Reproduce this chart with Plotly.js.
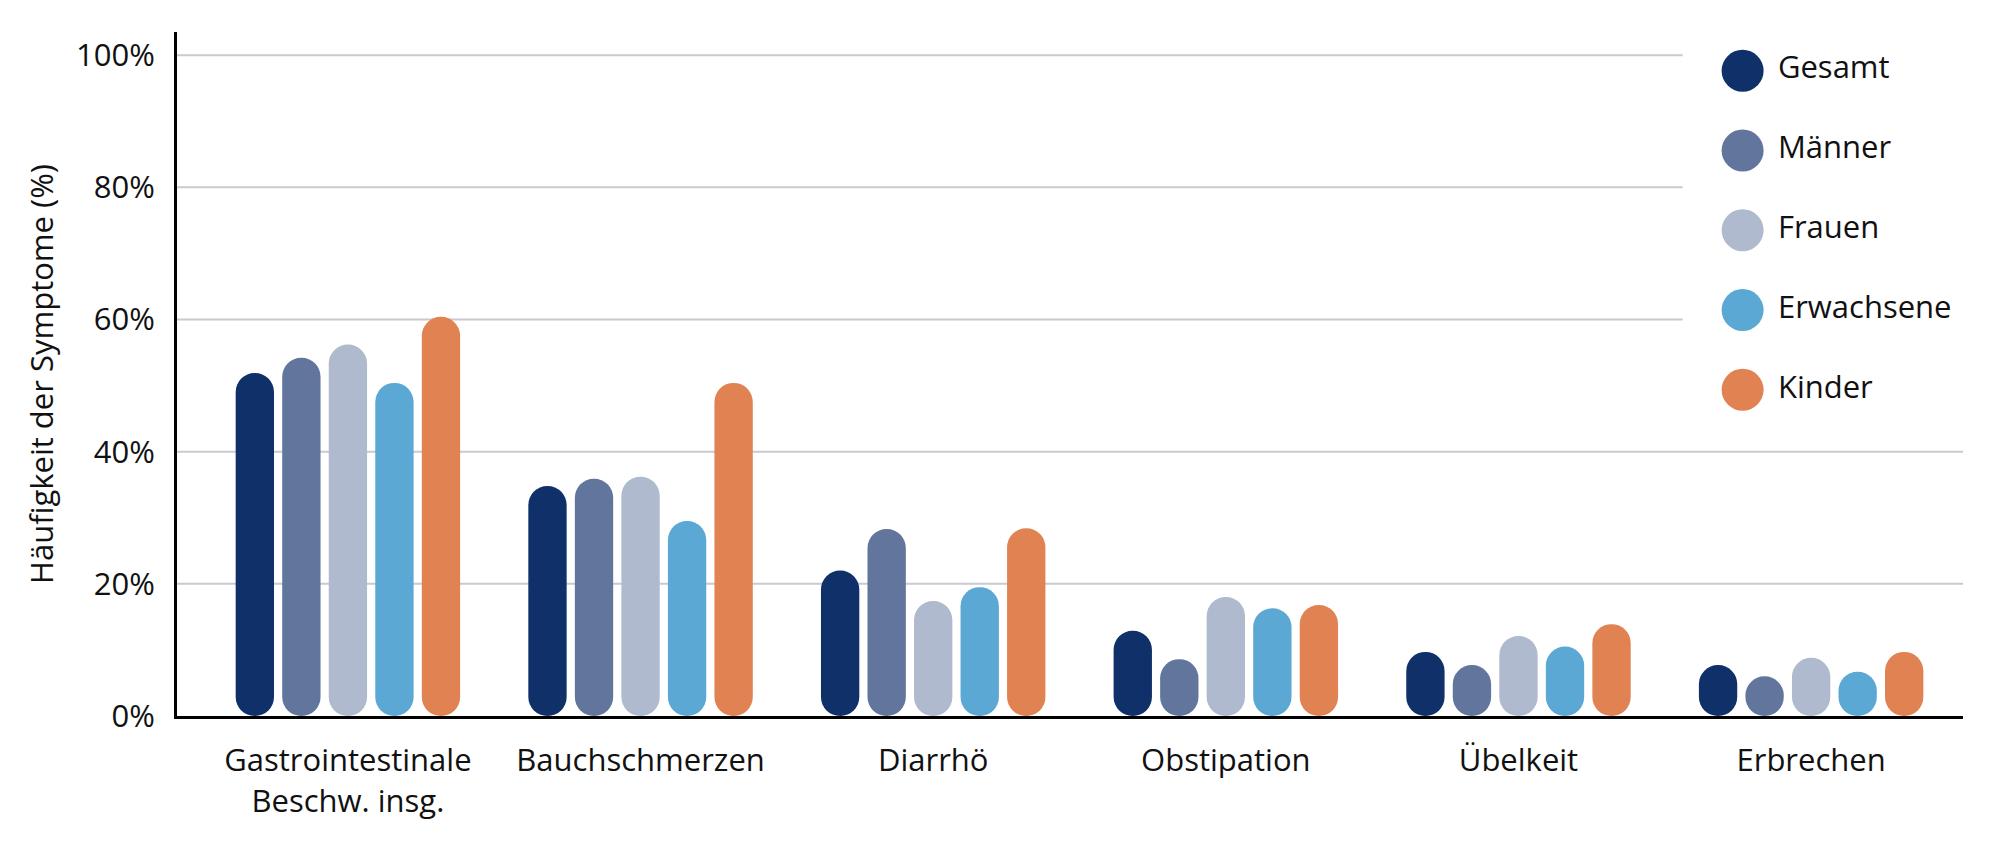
<!DOCTYPE html>
<html>
<head>
<meta charset="utf-8">
<script src="https://cdn.plot.ly/plotly-3.0.1.min.js"></script>
<style>html,body{margin:0;padding:0;background:#fff;}#chart{width:2000px;height:852px;}</style>
</head>
<body>
<div id="chart"></div>
<script>
const categories = ['Gastrointestinale<br>Beschw. insg.', 'Bauchschmerzen', 'Diarrhö', 'Obstipation', 'Übelkeit', 'Erbrechen'];
const seriesNames = ['Gesamt', 'Männer', 'Frauen', 'Erwachsene', 'Kinder'];
const seriesColors = ['#10306a', '#62769d', '#afbacf', '#5ba8d4', '#e08252'];
const gesamt = [51.9, 34.8, 22.0, 12.9, 9.7, 7.7];
const maenner = [54.2, 35.9, 28.3, 8.6, 7.7, 6.0];
const frauen = [56.2, 36.2, 17.4, 18.0, 12.1, 8.8];
const erwachsene = [50.4, 29.5, 19.5, 16.3, 10.5, 6.7];
const kinder = [60.4, 50.4, 28.4, 16.8, 13.9, 9.7];
const yTickVals = [0, 20, 40, 60, 80, 100];
const yTickText = ['0%', '20%', '40%', '60%', '80%', '100%'];
const legendIndex = [0, 1, 2, 3, 4];

const seriesValues = [gesamt, maenner, frauen, erwachsene, kinder];
const barWidth = 0.131, barStep = 0.159;
const FONT = 'Open Sans', FS = 31, TXT = '#111111';
const traces = [];
seriesValues.forEach(function (vals, i) {
  const off = (i - 2) * barStep - barWidth / 2;
  traces.push({
    type: 'bar', x: categories, y: vals, base: vals.map(function () { return 0; }), name: seriesNames[i],
    offset: off, width: barWidth, showlegend: false, hoverinfo: 'skip',
    marker: { color: seriesColors[i], cornerradius: '50%', line: { width: 0 } }
  });
});

// custom legend with large circles
traces.push({
  type: 'scatter', mode: 'markers+text', xaxis: 'x2', yaxis: 'y2',
  x: legendIndex.map(function () { return 0; }), y: legendIndex,
  text: seriesNames.map(function (n) { return '\u00a0' + n; }), textposition: 'middle right',
  textfont: { family: FONT, size: FS, color: TXT },
  marker: { size: 42, color: seriesColors, line: { width: 0 } },
  cliponaxis: false, showlegend: false, hoverinfo: 'skip'
});

// gridlines (shortened where the legend sits)
const gridShapes = yTickVals.filter(function (v) { return v > 0; }).map(function (v) {
  return {
    type: 'line', xref: 'x domain', yref: 'y', layer: 'below',
    x0: 0, x1: v >= 60 ? 0.843 : 1, y0: v, y1: v,
    line: { color: '#c9c9d1', width: 2 }
  };
});

const layout = {
  width: 2000, height: 852,
  margin: { l: 177, r: 37, t: 32, b: 135.5 },
  paper_bgcolor: '#ffffff', plot_bgcolor: 'rgba(0,0,0,0)',
  font: { family: FONT, size: FS, color: TXT },
  barmode: 'overlay',
  showlegend: false,
  xaxis: {
    type: 'category', range: [-0.584, 5.519], fixedrange: true,
    showline: true, linecolor: '#000000', linewidth: 3,
    showgrid: false, zeroline: false, ticks: '',
    tickfont: { family: FONT, size: FS, color: TXT },
    ticklabelstandoff: 15
  },
  yaxis: {
    range: [0, 103.5], fixedrange: true,
    tickvals: yTickVals, ticktext: yTickText,
    showline: true, linecolor: '#000000', linewidth: 3,
    showgrid: false, zeroline: false, ticks: '',
    tickfont: { family: FONT, size: FS, color: TXT },
    ticklabelstandoff: 13,
    title: { text: 'Häufigkeit der Symptome (%)', font: { family: FONT, size: FS, color: TXT }, standoff: 14 }
  },
  xaxis2: {
    domain: [0.8566, 0.8966], range: [-1, 1], anchor: 'y2',
    visible: false, fixedrange: true
  },
  yaxis2: {
    domain: [0.4303, 0.990], range: [4.4, -0.4], anchor: 'x2',
    visible: false, fixedrange: true
  },
  shapes: gridShapes
};

Plotly.newPlot('chart', traces, layout, { displayModeBar: false, staticPlot: true });
</script>
</body>
</html>
